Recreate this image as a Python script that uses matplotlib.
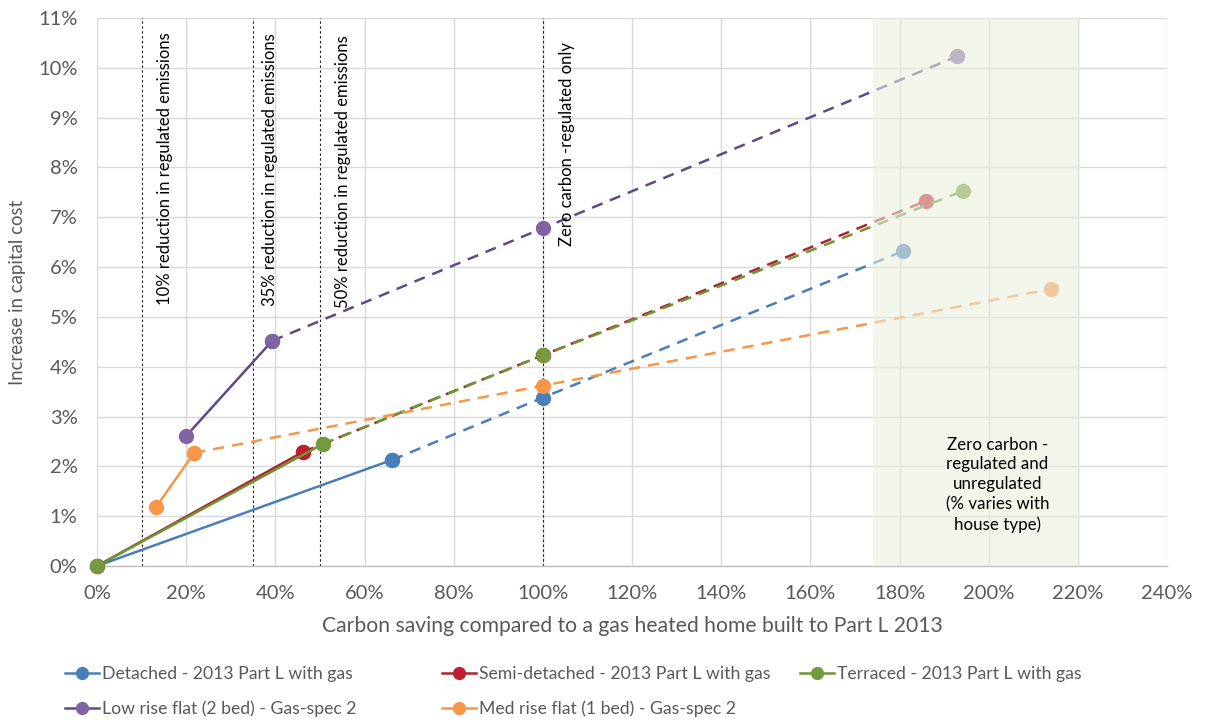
import matplotlib
matplotlib.use("Agg")
import matplotlib.pyplot as plt
from matplotlib.ticker import FuncFormatter, MultipleLocator

plt.rcParams['font.family'] = ['Lato', 'DejaVu Sans']

# ---- data (x: carbon saving %, y: capital cost increase %) ----
det_x = [0, 66.2, 100, 180.8]
det_y = [0, 2.13, 3.38, 6.32]
semi_x = [0, 46.2, 100, 186.0]
semi_y = [0, 2.29, 4.23, 7.33]
terr_x = [0, 50.7, 100, 194.3]
terr_y = [0, 2.45, 4.23, 7.53]
low_x = [20.0, 39.3, 100, 192.9]
low_y = [2.61, 4.52, 6.78, 10.23]
med_x = [13.2, 21.8, 100, 214.0]
med_y = [1.18, 2.27, 3.62, 5.56]

labels = ["Detached - 2013 Part L with gas",
          "Semi-detached - 2013 Part L with gas",
          "Terraced - 2013 Part L with gas",
          "Low rise flat (2 bed) - Gas-spec 2",
          "Med rise flat (1 bed) - Gas-spec 2"]
line_colors = ['#4A7EBB', '#A8262F', '#6E9434', '#5F4A87', '#F79646']
marker_colors = ['#4A7EBB', '#BE1E2D', '#739A3C', '#8064A2', '#F79646']
series = [(det_x, det_y), (semi_x, semi_y), (terr_x, terr_y), (low_x, low_y), (med_x, med_y)]

ref_lines = [10, 35, 50, 100]
ref_texts = ["10% reduction in regulated emissions",
             "35% reduction in regulated emissions",
             "50% reduction in regulated emissions",
             "Zero carbon -regulated only"]
ref_text_x = [15.3, 38.8, 55.2, 105.4]
ref_text_top = [10.72, 10.70, 10.66, 10.52]

zone = (174, 220.5)
zone_text = "Zero carbon -\nregulated and\nunregulated\n(% varies with\nhouse type)"

W, H = 1206, 720
fig = plt.figure(figsize=(W / 100, H / 100), dpi=100)
ax = fig.add_axes([97 / W, 1 - 566 / H, 1070 / W, 548 / H])

ax.set_xlim(0, 240)
ax.set_ylim(0, 11)
ax.xaxis.set_major_locator(MultipleLocator(20))
ax.yaxis.set_major_locator(MultipleLocator(1))
ax.xaxis.set_major_formatter(FuncFormatter(lambda v, p: f"{v:.0f}%"))
ax.yaxis.set_major_formatter(FuncFormatter(lambda v, p: f"{v:.0f}%"))
ax.grid(True, color='#D9D9D9', lw=1.0, zorder=0)
ax.set_axisbelow(True)
for s in ['top', 'right', 'left']:
    ax.spines[s].set_visible(False)
ax.spines['bottom'].set_color('#BFBFBF')
ax.spines['bottom'].set_linewidth(1.0)
ax.tick_params(axis='both', length=0, labelsize=14.5, colors='#595959')
ax.tick_params(axis='x', pad=14)
ax.tick_params(axis='y', pad=14)

handles = []
for (xs, ys), lc, mc, lab in zip(series, line_colors, marker_colors, labels):
    h, = ax.plot(xs[:2], ys[:2], color=lc, lw=1.8, marker='o', ms=10,
                 mfc=mc, mec=mc, zorder=3, label=lab, clip_on=False)
    ax.plot(xs[1:], ys[1:], color=lc, lw=1.8, dashes=(4.5, 3.2), marker='o',
            ms=10, mfc=mc, mec=mc, zorder=3, clip_on=False)
    handles.append(h)

for xv in ref_lines:
    ax.axvline(xv, color='#222222', lw=0.8, ls=(0, (2.2, 2.2)), zorder=2)
for xt, yt, t in zip(ref_text_x, ref_text_top, ref_texts):
    ax.text(xt, yt, t, rotation=90, ha='center', va='top', fontsize=12,
            color='black', zorder=6)

ax.axvspan(zone[0], zone[1], ymin=-0.004, color='#E8EEDC', alpha=0.58, lw=0,
           zorder=5)
ax.text(202, 1.63, zone_text, ha='center', va='center', fontsize=12.2,
        linespacing=1.3, color='black', zorder=6)

ax.set_xlabel("Carbon saving compared to a gas heated home built to Part L 2013",
              fontsize=15.2, color='#595959', labelpad=10)
ax.set_ylabel("Increase in capital cost", fontsize=13.4, color='#595959', labelpad=9)

# legend entries placed row-wise like the reference
leg_pos = [(65, 674), (442, 674), (800, 674), (65, 709), (442, 709)]
for h, (px, py) in zip(handles, leg_pos):
    lg = fig.legend(handles=[h], loc='center left',
                    bbox_to_anchor=(px / W, 1 - py / H), frameon=False,
                    fontsize=12.7, handlelength=1.95, handletextpad=0.12,
                    borderpad=0, borderaxespad=0, markerscale=0.85)
    for t in lg.get_texts():
        t.set_color('#595959')

fig.savefig("out.png", dpi=100)
